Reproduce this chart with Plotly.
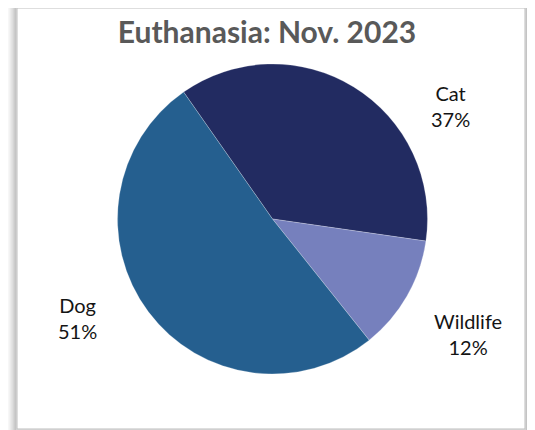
import plotly.graph_objects as go

# Euthanasia counts by animal type, Nov. 2023 (shares)
categories = ["Cat", "Wildlife", "Dog"]
shares = [37, 12, 51]
colors = ["#222B61", "#7680BD", "#255F8F"]

# where each outside label is centred (reference pixels, Excel "best fit" style)
label_pos = {"Cat": (450, 106), "Wildlife": (468, 334), "Dog": (77, 318)}

# the page body keeps its default 8px margin, so the figure is drawn 8px smaller
OFF = 8
W, H = 535 - OFF, 430 - OFF
FONT = "Century Gothic, Lato, DejaVu Sans, sans-serif"


def px_x(x):
    return (x - OFF) / W


def px_y(y):
    return 1 - (y - OFF) / H


fig = go.Figure(go.Pie(
    labels=categories,
    values=shares,
    sort=False,
    direction="clockwise",
    rotation=-35,
    marker=dict(colors=colors, line=dict(color="rgba(255,255,255,0.6)", width=0.4)),
    textinfo="none",
    hoverinfo="label+percent",
    domain=dict(x=[px_x(117), px_x(428)], y=[px_y(374), px_y(64)]),
    showlegend=False,
))

# chart frame with a soft drop shadow
shapes = []
for i in range(10, 0, -1):
    shapes.append(dict(
        type="rect", xref="paper", yref="paper",
        x0=px_x(17 - i), x1=px_x(525 + i), y0=px_y(429 + i), y1=px_y(8 - i),
        line=dict(color="rgba(0,0,0,%.3f)" % (0.22 * ((11 - i) / 10) ** 1.5), width=1.2),
        fillcolor="rgba(0,0,0,0)", layer="below",
    ))
shapes.append(dict(
    type="rect", xref="paper", yref="paper",
    x0=px_x(17), x1=px_x(525), y0=px_y(429), y1=px_y(8),
    line=dict(color="#BDBDBD", width=1), fillcolor="white", layer="below",
))

total = sum(shares)
annotations = []
for name, val in zip(categories, shares):
    x, y = label_pos[name]
    annotations.append(dict(
        x=px_x(x), y=px_y(y), xref="paper", yref="paper", showarrow=False,
        xanchor="center", yanchor="middle",
        text=f"{name}<br>{round(100 * val / total)}%",
        font=dict(family=FONT, size=20, color="#141414"),
        align="center",
    ))

fig.update_layout(
    width=W, height=H,
    margin=dict(l=0, r=0, t=0, b=0),
    paper_bgcolor="white",
    plot_bgcolor="white",
    title=dict(
        text="<b>Euthanasia: Nov. 2023</b>",
        x=px_x(267), xanchor="center",
        y=px_y(32), yanchor="middle",
        font=dict(family=FONT, size=30, color="#595959"),
    ),
    shapes=shapes,
    annotations=annotations,
)

fig.write_html("out.html")
